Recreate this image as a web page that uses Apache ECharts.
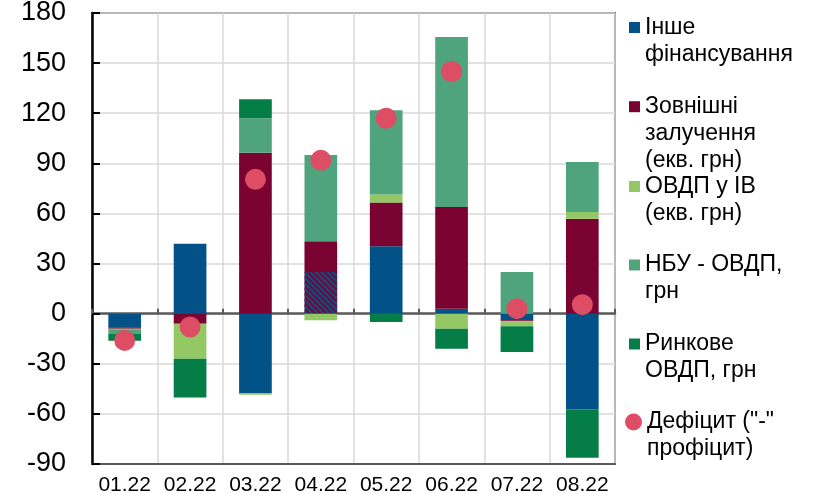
<!DOCTYPE html>
<html>
<head>
<meta charset="utf-8">
<script src="https://cdn.jsdelivr.net/npm/echarts@6/dist/echarts.min.js"></script>
<style>
  html, body { margin: 0; padding: 0; background: #fff; }
  #chart { width: 819px; height: 493px; }
</style>
</head>
<body>
<div id="chart"></div>
<script>
// Months on the category axis
const months = ['01.22', '02.22', '03.22', '04.22', '05.22', '06.22', '07.22', '08.22'];

// Financing sources, UAH bn
const otherFinancing    = [-8.2, 41.8, -47.5, 25.0, 40.4, 3.0, -4.0, -57.2];
const externalBorrowing = [-0.8, -6.0, 96.4, 18.4, 26.2, 60.8, -0.6, 56.8];
const fxBonds           = [-0.4, -21.0, -1.0, -4.0, 4.8, -9.0, -3.0, 4.0];
const nbuBonds          = [-2.4, 0, 20.6, 51.6, 50.4, 101.8, 25.0, 30.0];
const marketBonds       = [-4.4, -23.2, 11.4, 0, -5.0, -12.0, -15.4, -29.0];

// Budget balance (deficit "-" surplus)
const deficit = [-16.0, -8.0, 80.4, 91.8, 117.0, 145.0, 3.0, 5.4];

// Month whose "other financing" block is shown hatched
const hatchedMonths = ['04.22'];

// Value axis ticks
const yMin = -90, yMax = 180, yStep = 30;

// Legend captions
const seriesNames = [
  'Інше\nфінансування',
  'Зовнішні\nзалучення\n(екв. грн)',
  'ОВДП у ІВ\n(екв. грн)',
  'НБУ - ОВДП,\nгрн',
  'Ринкове\nОВДП, грн',
  'Дефіцит ("-"\nпрофіцит)'
];

const colors = ['#025288', '#7a0331', '#94c864', '#50a47d', '#047d46', '#dd4e65'];
const FONT = '"Liberation Sans", Arial, sans-serif';
const LINE_H = 27;

// Plot area
const GRID = { left: 92, right: 204, top: 13, bottom: 29 };
const CHART_H = 493;
const plotH = CHART_H - GRID.top - GRID.bottom;
// distance from the bottom edge of the plot up to the zero line
const zeroFromBottom = plotH * (0 - yMin) / (yMax - yMin);

const chart = echarts.init(document.getElementById('chart'), null, { renderer: 'canvas' });

function barSeries(idx, values) {
  return {
    name: seriesNames[idx],
    type: 'bar',
    stack: 'sources',
    barWidth: '50%',
    xAxisIndex: 0,
    itemStyle: { color: colors[idx] },
    emphasis: { disabled: true },
    data: values.map((v, i) => {
      if (idx === 0 && hatchedMonths.includes(months[i])) {
        return {
          value: v,
          itemStyle: {
            color: colors[1],
            decal: {
              color: colors[0],
              symbol: 'rect',
              symbolSize: 1,
              dashArrayX: [1, 0],
              dashArrayY: [2, 2],
              rotation: Math.PI / 4
            }
          }
        };
      }
      return v;
    })
  };
}

// One legend block per series so every marker sits beside the first caption line
const legendCenters = [27.5, 106.7, 186.5, 265, 344, 422];
const legends = seriesNames.map((name, i) => {
  const lines = name.split('\n').length;
  const isDot = i === 5;
  const s = isDot ? 17 : 11;
  const h = s + (lines - 1) * LINE_H;
  const icon = isDot
    ? `path://M0,8.5A8.5,8.5,0,1,1,17,8.5A8.5,8.5,0,1,1,0,8.5Z M17,${h}`
    : `path://M0,0H11V11H0Z M11,${h}`;
  return {
    data: [name],
    orient: 'vertical',
    left: isDot ? 625 : 629,
    top: legendCenters[i] - 13.5,
    padding: 0,
    itemWidth: s,
    itemHeight: h,
    icon: icon,
    textStyle: { fontFamily: FONT, fontSize: 23, lineHeight: LINE_H, color: '#000' }
  };
});

const option = {
  backgroundColor: '#fff',
  animation: false,
  legend: legends,
  grid: {
    left: GRID.left, right: GRID.right, top: GRID.top, bottom: GRID.bottom,
    show: true, borderColor: '#5a5a5a', borderWidth: 2,
    containLabel: false,
    outerBoundsMode: 'none'
  },
  xAxis: [
    {
      type: 'category',
      data: months,
      position: 'bottom',
      axisLine: { onZero: false, lineStyle: { color: '#5a5a5a', width: 2 } },
      axisTick: { show: false },
      axisLabel: { fontFamily: FONT, fontSize: 21, color: '#000', margin: 11, interval: 0 },
      splitLine: { show: true, interval: 0, lineStyle: { color: '#d9d9d9', width: 1.5 } }
    },
    {
      // zero baseline with short upward ticks between months
      type: 'category',
      data: months,
      position: 'bottom',
      offset: -zeroFromBottom,
      axisLine: { onZero: false, lineStyle: { color: '#5a5a5a', width: 2.5 } },
      axisTick: { show: true, inside: true, interval: 0, length: 5, lineStyle: { color: '#5a5a5a', width: 2 } },
      axisLabel: { show: false },
      splitLine: { show: false }
    }
  ],
  yAxis: {
    type: 'value',
    min: yMin, max: yMax, interval: yStep,
    axisLine: { show: true, onZero: false, lineStyle: { color: '#000', width: 2.5 } },
    axisTick: { show: true, inside: true, length: 8, lineStyle: { color: '#000', width: 2 } },
    axisLabel: { fontFamily: FONT, fontSize: 27, color: '#000', margin: 26 },
    splitLine: { show: true, lineStyle: { color: '#d9d9d9', width: 1.5 } }
  },
  series: [
    barSeries(0, otherFinancing),
    barSeries(1, externalBorrowing),
    barSeries(2, fxBonds),
    barSeries(3, nbuBonds),
    barSeries(4, marketBonds),
    {
      name: seriesNames[5],
      type: 'scatter',
      xAxisIndex: 0,
      symbol: 'circle',
      symbolSize: 21,
      z: 5,
      itemStyle: { color: colors[5], opacity: 1 },
      emphasis: { disabled: true },
      data: deficit
    }
  ]
};

chart.setOption(option);
</script>
</body>
</html>
